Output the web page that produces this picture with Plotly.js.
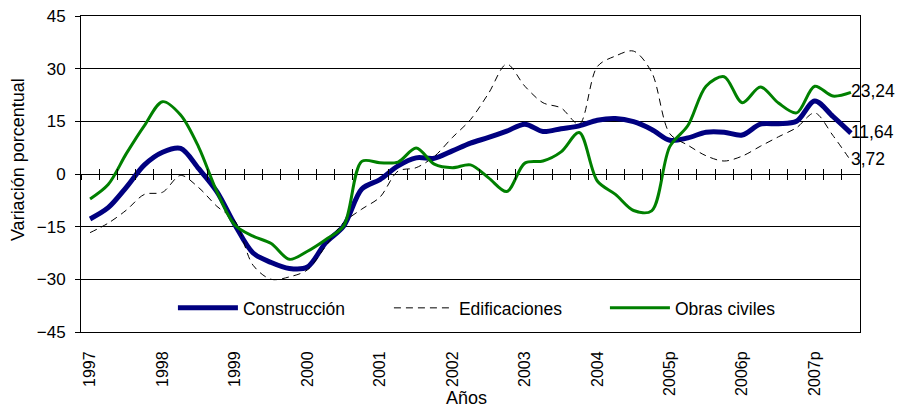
<!DOCTYPE html>
<html>
<head>
<meta charset="utf-8">
<script src="https://cdn.plot.ly/plotly-3.0.1.min.js"></script>
<style>
html,body{margin:0;padding:0;background:#fff;}
#chart{width:901px;height:410px;}
</style>
</head>
<body>
<div id="chart"></div>
<script>
// Quarterly periods 1997-I .. 2007-III
const years = ['1997','1998','1999','2000','2001','2002','2003','2004','2005p','2006p','2007p'];
const quarters = ['I','II','III','IV'];
const periods = [];
years.forEach(function(y){ quarters.forEach(function(q){ periods.push(y + '-' + q); }); });
periods.length = 43;

const construccion = [-12.8,-9.6,-3.8,2.6,6.2,7.3,1.5,-5.0,-14.5,-22.5,-25.2,-26.9,-26.5,-19.6,-14.8,-4.3,-1.6,2.3,4.6,4.5,6.6,8.8,10.4,12.2,14.2,12.1,12.9,13.7,15.3,15.8,14.9,12.7,9.6,10.3,11.9,11.9,11.1,14.2,14.3,15.0,20.8,16.4,11.64];
const edificaciones = [-16.7,-14.0,-10.3,-5.8,-5.2,-0.4,-3.9,-9.2,-13.4,-26.0,-30.0,-29.3,-27.3,-20.6,-13.8,-10.0,-6.6,0.8,1.8,5.0,10.4,15.5,23.0,31.3,25.0,20.3,18.8,14.2,30.6,33.6,35.0,29.0,11.5,8.2,5.2,3.7,5.1,7.9,10.6,13.2,17.4,11.0,3.72];
const obrasCiviles = [-7.1,-3.0,5.8,13.8,20.6,16.8,7.6,-5.0,-14.6,-17.7,-19.8,-24.3,-22.0,-18.7,-14.8,3.6,3.2,3.4,7.4,2.8,1.8,2.6,-1.1,-5.0,3.1,3.7,6.3,11.8,-2.0,-5.8,-10.4,-10.5,7.8,13.8,25.0,27.7,20.3,24.8,20.2,17.4,25.0,22.2,23.24];

const yearTickVals = years.map(function(y){ return y + '-I'; });

const FONT = 'Arial, "Liberation Sans", sans-serif';
const last = periods.length - 1;
function fmt(v){ return v.toFixed(2).replace('.', ','); }

const traces = [
  {x: periods, y: construccion, name: 'Construcción', type: 'scatter', mode: 'lines',
   line: {color: '#000080', width: 5, shape: 'spline', smoothing: 0.9}, hoverinfo: 'skip'},
  {x: periods, y: edificaciones, name: 'Edificaciones', type: 'scatter', mode: 'lines',
   line: {color: '#000000', width: 1, dash: '7px,5px', shape: 'spline', smoothing: 0.9}, hoverinfo: 'skip'},
  {x: periods, y: obrasCiviles, name: 'Obras civiles', type: 'scatter', mode: 'lines',
   line: {color: '#008000', width: 3, shape: 'spline', smoothing: 0.9}, hoverinfo: 'skip'},
  // end value labels
  {x: [periods[last], periods[last], periods[last]],
   y: [obrasCiviles[last], construccion[last], edificaciones[last]],
   text: [fmt(obrasCiviles[last]), fmt(construccion[last]), fmt(edificaciones[last])],
   type: 'scatter', mode: 'text', textposition: 'middle right', cliponaxis: false,
   textfont: {family: FONT, size: 17.5, color: '#000'}, showlegend: false, hoverinfo: 'skip'},
  // invisible carriers for the tick axes on the zero line
  {x: periods, y: construccion, xaxis: 'x2', type: 'scatter', mode: 'lines', line: {width: 0}, opacity: 0, showlegend: false, hoverinfo: 'skip'},
  {x: periods, y: construccion, xaxis: 'x3', type: 'scatter', mode: 'lines', line: {width: 0}, opacity: 0, showlegend: false, hoverinfo: 'skip'}
];

const tickAxis = function(dir){
  return {type: 'category', categoryorder: 'array', categoryarray: periods,
    overlaying: 'x', anchor: 'free', position: 0.5, range: [-0.5, 42.5],
    tickmode: 'linear', tick0: 0, dtick: 1, tickson: 'boundaries',
    ticks: dir, ticklen: 5, tickwidth: 1, tickcolor: '#000',
    showticklabels: false, showgrid: false, showline: false, zeroline: false};
};

const layout = {
  width: 901, height: 410,
  margin: {l: 81, r: 41, t: 16, b: 78},
  paper_bgcolor: '#fff', plot_bgcolor: '#fff',
  font: {family: FONT, color: '#000', size: 17},
  showlegend: true,
  legend: {orientation: 'h', x: 0.118, xanchor: 'left', y: 0.076, yanchor: 'middle',
    bgcolor: 'rgba(255,255,255,0)', borderwidth: 0, font: {family: FONT, size: 17.5},
    entrywidth: 141, entrywidthmode: 'pixels', itemwidth: 60},
  xaxis: {type: 'category', categoryorder: 'array', categoryarray: periods, range: [-0.5, 42.5],
    tickmode: 'array', tickvals: yearTickVals, ticktext: years, tickangle: -90,
    tickfont: {family: FONT, size: 16}, ticks: '', ticklabelstandoff: 12,
    showline: true, linecolor: '#000', linewidth: 1, mirror: true, showgrid: false, zeroline: false},
  xaxis2: tickAxis('outside'),
  xaxis3: tickAxis('inside'),
  yaxis: {range: [-45, 45], tickmode: 'linear', tick0: -45, dtick: 15,
    tickfont: {family: FONT, size: 17}, ticks: 'outside', ticklen: 5, tickcolor: '#000',
    ticklabelstandoff: 6,
    showgrid: true, gridcolor: '#000', gridwidth: 1,
    zeroline: true, zerolinecolor: '#000', zerolinewidth: 1,
    showline: true, linecolor: '#000', linewidth: 1, mirror: true},
  annotations: [
    {text: 'Variación porcentual', xref: 'paper', yref: 'paper', x: -0.081, y: 0.547,
     textangle: -90, showarrow: false, font: {family: FONT, size: 18}, xanchor: 'center', yanchor: 'middle'},
    {text: 'Años', xref: 'paper', yref: 'paper', x: 0.4955, y: -0.209,
     showarrow: false, font: {family: FONT, size: 18}, xanchor: 'center', yanchor: 'middle'}
  ]
};

Plotly.newPlot('chart', traces, layout, {displayModeBar: false, staticPlot: true});
</script>
</body>
</html>
